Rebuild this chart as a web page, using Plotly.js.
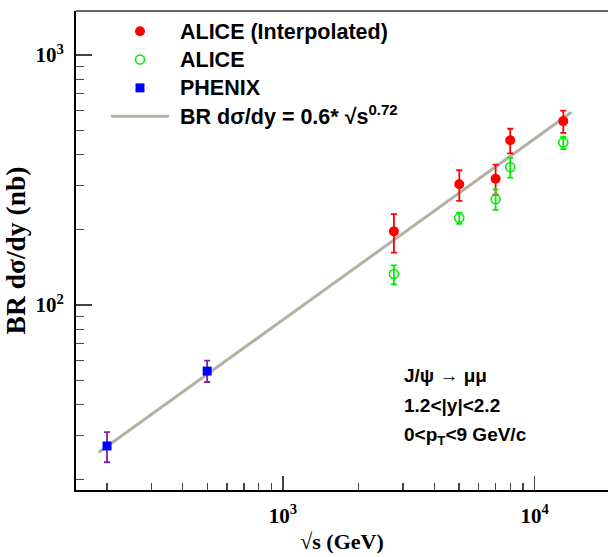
<!DOCTYPE html>
<html><head><meta charset="utf-8">
<script src="https://cdn.plot.ly/plotly-3.0.1.min.js"></script>
<style>html,body{margin:0;padding:0;background:#fff}</style>
</head><body><div id="chart" style="width:608px;height:557px"></div>
<script>
// --- data ---
const aliceInterpX = [2760, 5020, 7000, 8000, 13000];
const aliceInterpY = [197, 304, 320, 456, 544];
const aliceInterpErrPlus = [34, 42, 44, 51, 55];
const aliceInterpErrMinus = [35, 43, 44, 52, 56];

const aliceX = [2760, 5020, 7000, 8000, 13000];
const aliceY = [133, 223, 265, 356, 447];
const aliceErrPlus = [11, 11, 25, 32, 24];
const aliceErrMinus = [12, 12, 25, 33, 27];

const phenixX = [200, 500];
const phenixY = [27.3, 54.4];
const phenixErrPlus = [3.7, 5.5];
const phenixErrMinus = [3.8, 5.2];

const fitX = [185, 14000];
const fitY = [25.7, 590];

const xMajor = [1000, 10000];
const xMajorText = ['10<sup>3</sup>', '10<sup>4</sup>'];
const xMinor = [200, 300, 400, 500, 600, 700, 800, 900, 2000, 3000, 4000, 5000, 6000, 7000, 8000, 9000];
const yMajor = [100, 1000];
const yMajorText = ['10<sup>2</sup>', '10<sup>3</sup>'];
const yMinor = [20, 30, 40, 50, 60, 70, 80, 90, 200, 300, 400, 500, 600, 700, 800, 900];

const sans = 'Liberation Sans, Arial, Helvetica, sans-serif';
const serif = 'Liberation Serif, Times New Roman, serif';
const big = t => '<span style="font-size:21.5px">\u00a0' + t + '</span>';

const traces = [
  {
    x: fitX, y: fitY, mode: 'lines', name: big('BR dσ/dy = 0.6* √s<sup>0.72</sup>'),
    line: {color: '#b5b1a2', width: 3}, legendrank: 4, hoverinfo: 'skip'
  },
  {
    x: aliceInterpX, y: aliceInterpY, mode: 'markers', name: big('ALICE (Interpolated)'),
    marker: {symbol: 'circle', color: '#ff0000', size: 10},
    error_y: {type: 'data', symmetric: false, array: aliceInterpErrPlus, arrayminus: aliceInterpErrMinus, color: '#ff0000', thickness: 1.8, width: 3},
    legendrank: 1
  },
  {
    x: aliceX, y: aliceY, mode: 'markers', name: big('ALICE'),
    marker: {symbol: 'circle-open', color: '#00ee00', size: 9, line: {color: '#00ee00', width: 1.6}},
    error_y: {type: 'data', symmetric: false, array: aliceErrPlus, arrayminus: aliceErrMinus, color: '#00ee00', thickness: 1.8, width: 3},
    legendrank: 2
  },
  {
    x: phenixX, y: phenixY, mode: 'markers', name: big('PHENIX'),
    marker: {symbol: 'square', color: '#0000ff', size: 9},
    error_y: {type: 'data', symmetric: false, array: phenixErrPlus, arrayminus: phenixErrMinus, color: '#7a22a8', thickness: 1.8, width: 3},
    legendrank: 3
  }
];

const plotL = 76, plotR = 608, plotT = 11, plotB = 490;
const pxX = v => (v - plotL) / (plotR - plotL);
const pxY = v => (plotB - v) / (plotB - plotT);

const layout = {
  width: 608, height: 557,
  margin: {l: plotL, r: 608 - plotR, t: plotT, b: 557 - plotB},
  paper_bgcolor: '#ffffff', plot_bgcolor: '#ffffff',
  showlegend: true,
  legend: {
    x: pxX(106), y: pxY(12), xanchor: 'left', yanchor: 'top',
    bgcolor: 'rgba(0,0,0,0)', borderwidth: 0, itemwidth: 58,
    font: {family: sans, size: 19.5, weight: 'bold', color: '#000'},
    traceorder: 'normal', itemclick: false
  },
  xaxis: {
    type: 'log', range: [Math.log10(150.6), 4.2916],
    showline: true, linecolor: '#000', linewidth: 2, mirror: false,
    showgrid: false, zeroline: false,
    ticks: 'inside', ticklen: 14, tickwidth: 1.3, tickcolor: '#444',
    tickmode: 'array', tickvals: xMajor, ticktext: xMajorText,
    tickfont: {family: serif, size: 21, weight: 'bold', color: '#000'},
    ticklabelstandoff: 6,
    minor: {tickmode: 'array', tickvals: xMinor, ticks: 'inside', ticklen: 7, tickwidth: 1.3, tickcolor: '#444', showgrid: false},
    title: {text: '√s (GeV)', font: {family: serif, size: 22, weight: 'bold', color: '#000'}, standoff: 6}
  },
  yaxis: {
    type: 'log', range: [1.26, 3.176],
    showline: true, linecolor: '#000', linewidth: 2, mirror: false,
    showgrid: false, zeroline: false,
    ticks: 'inside', ticklen: 16, tickwidth: 1.3, tickcolor: '#444',
    tickmode: 'array', tickvals: yMajor, ticktext: yMajorText,
    tickfont: {family: serif, size: 21, weight: 'bold', color: '#000'},
    ticklabelstandoff: 6,
    minor: {tickmode: 'array', tickvals: yMinor, ticks: 'inside', ticklen: 8, tickwidth: 1.3, tickcolor: '#444', showgrid: false},
    title: {text: 'BR dσ/dy (nb)', font: {family: serif, size: 27.5, weight: 'bold', color: '#000'}, standoff: 5}
  },
  shapes: [
    {type: 'line', xref: 'paper', yref: 'paper', x0: 0, x1: 1, y0: 1, y1: 1, line: {color: '#666', width: 2}}
  ],
  annotations: [
    {xref: 'paper', yref: 'paper', x: pxX(402), y: pxY(375), xanchor: 'left', yanchor: 'middle', showarrow: false,
     text: 'J/ψ → μμ', font: {family: sans, size: 19, weight: 'bold', color: '#000'}},
    {xref: 'paper', yref: 'paper', x: pxX(402), y: pxY(405), xanchor: 'left', yanchor: 'middle', showarrow: false,
     text: '1.2<|y|<2.2', font: {family: sans, size: 19, weight: 'bold', color: '#000'}},
    {xref: 'paper', yref: 'paper', x: pxX(402), y: pxY(436), xanchor: 'left', yanchor: 'middle', showarrow: false,
     text: '0<p<sub>T</sub><9 GeV/c', font: {family: sans, size: 19, weight: 'bold', color: '#000'}}
  ]
};

Plotly.newPlot('chart', traces, layout, {displayModeBar: false, staticPlot: true});
</script>
</body></html>
